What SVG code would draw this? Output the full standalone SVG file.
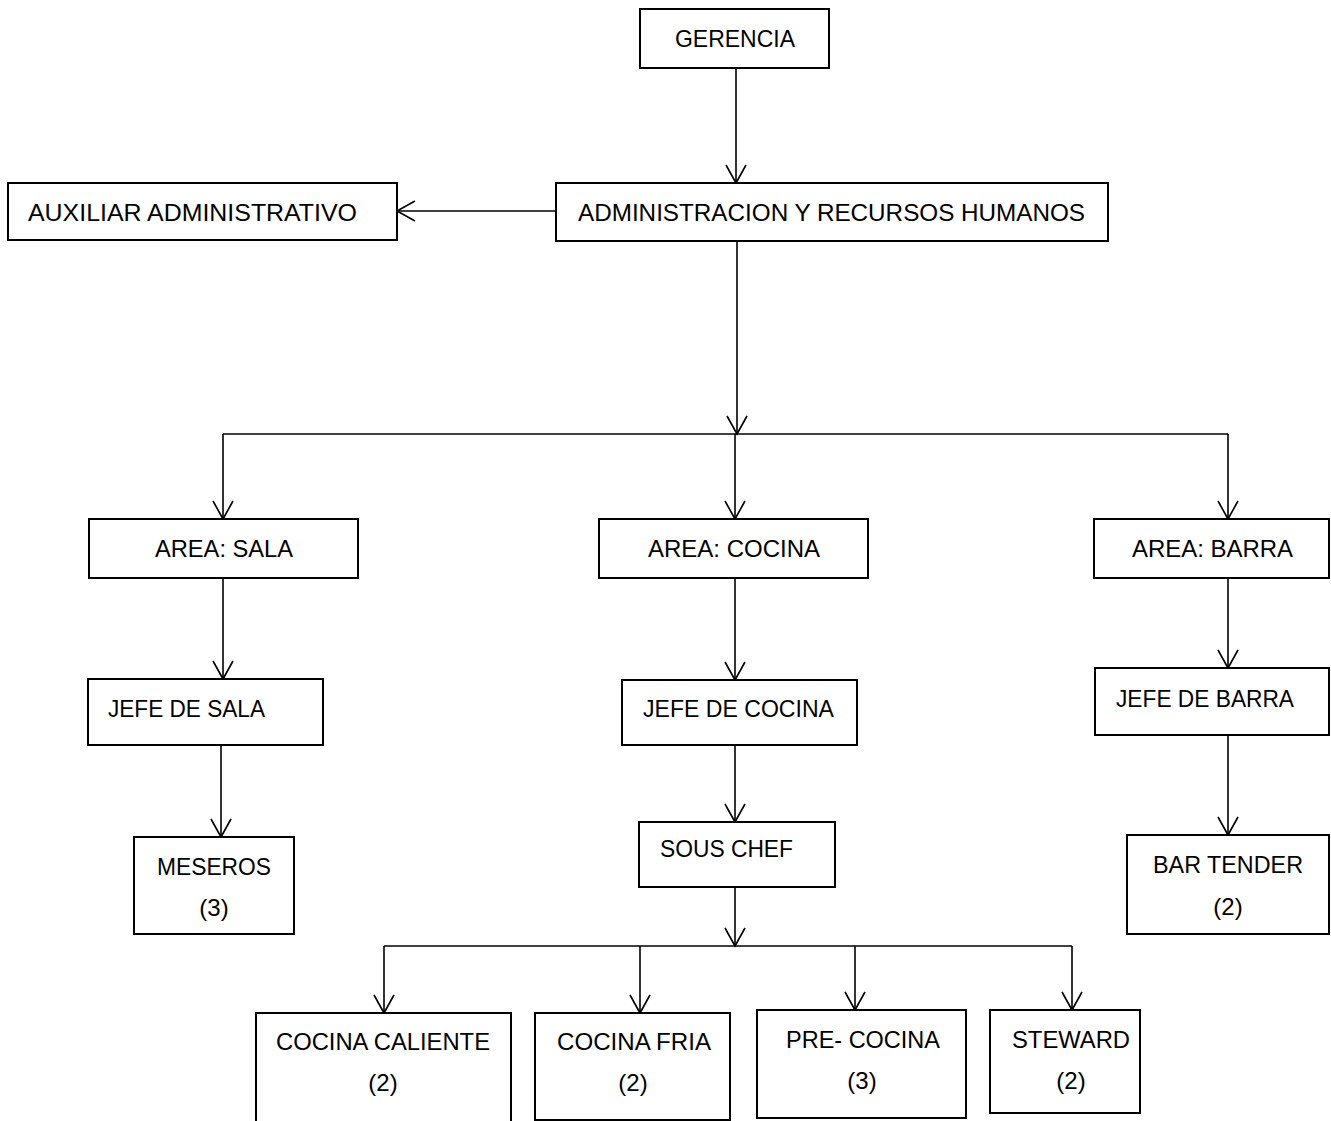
<svg xmlns="http://www.w3.org/2000/svg" width="1331" height="1121" viewBox="0 0 1331 1121">
<defs>
<marker id="ah" markerWidth="24" markerHeight="24" refX="18" refY="10" orient="auto" markerUnits="userSpaceOnUse" overflow="visible">
<path d="M0,0 L18,10 L0,20" fill="none" stroke="#000" stroke-width="1.6"/>
</marker>
</defs>
<style>
rect{fill:#fff;stroke:#000;stroke-width:2}
text{font-family:"Liberation Sans",Arial,sans-serif;font-size:24px;fill:#000}
.c{text-anchor:middle}
#connectors line{stroke:#000;stroke-width:1.6;fill:none}
.a{marker-end:url(#ah)}
</style>
<rect x="0" y="0" width="1331" height="1121" style="fill:#fff;stroke:none"/>
<g id="connectors">
<line class="a" x1="736" y1="68" x2="736" y2="183"/>
<line class="a" x1="556" y1="211" x2="397" y2="211"/>
<line class="a" x1="737" y1="241" x2="737" y2="434"/>
<line x1="223" y1="434" x2="1228" y2="434"/>
<line class="a" x1="223" y1="434" x2="223" y2="519"/>
<line class="a" x1="735" y1="434" x2="735" y2="519"/>
<line class="a" x1="1228" y1="434" x2="1228" y2="519"/>
<line class="a" x1="223" y1="578" x2="223" y2="679"/>
<line class="a" x1="221" y1="745" x2="221" y2="837"/>
<line class="a" x1="735" y1="578" x2="735" y2="680"/>
<line class="a" x1="735" y1="745" x2="735" y2="822"/>
<line class="a" x1="735" y1="887" x2="735" y2="946"/>
<line x1="384" y1="946" x2="1072" y2="946"/>
<line class="a" x1="384" y1="946" x2="384" y2="1013"/>
<line class="a" x1="640" y1="946" x2="640" y2="1013"/>
<line class="a" x1="855" y1="946" x2="855" y2="1010"/>
<line class="a" x1="1072" y1="946" x2="1072" y2="1010"/>
<line class="a" x1="1228" y1="578" x2="1228" y2="668"/>
<line class="a" x1="1228" y1="735" x2="1228" y2="835"/>
</g>
<g id="gerencia"><rect x="640" y="9" width="189" height="59"/><text x="675" y="47" textLength="120" lengthAdjust="spacingAndGlyphs">GERENCIA</text></g>
<g id="admin"><rect x="556" y="183" width="552" height="58"/><text x="578" y="221" textLength="507" lengthAdjust="spacingAndGlyphs">ADMINISTRACION Y RECURSOS HUMANOS</text></g>
<g id="auxiliar"><rect x="8" y="183" width="389" height="57"/><text x="28" y="221" textLength="329" lengthAdjust="spacingAndGlyphs">AUXILIAR ADMINISTRATIVO</text></g>
<g id="area-sala"><rect x="89" y="519" width="269" height="59"/><text x="155" y="557" textLength="138" lengthAdjust="spacingAndGlyphs">AREA: SALA</text></g>
<g id="area-cocina"><rect x="599" y="519" width="269" height="59"/><text x="648" y="557" textLength="172" lengthAdjust="spacingAndGlyphs">AREA: COCINA</text></g>
<g id="area-barra"><rect x="1094" y="519" width="235" height="59"/><text x="1132" y="557" textLength="161" lengthAdjust="spacingAndGlyphs">AREA: BARRA</text></g>
<g id="jefe-sala"><rect x="88" y="679" width="235" height="66"/><text x="108" y="717" textLength="157" lengthAdjust="spacingAndGlyphs">JEFE DE SALA</text></g>
<g id="jefe-cocina"><rect x="622" y="680" width="235" height="65"/><text x="643" y="717" textLength="191" lengthAdjust="spacingAndGlyphs">JEFE DE COCINA</text></g>
<g id="jefe-barra"><rect x="1095" y="668" width="234" height="67"/><text x="1116" y="707" textLength="178" lengthAdjust="spacingAndGlyphs">JEFE DE BARRA</text></g>
<g id="meseros"><rect x="134" y="837" width="160" height="97"/><text x="157" y="875" textLength="114" lengthAdjust="spacingAndGlyphs">MESEROS</text><text class="c" x="214" y="916">(3)</text></g>
<g id="sous-chef"><rect x="639" y="822" width="196" height="65"/><text x="660" y="857" textLength="133" lengthAdjust="spacingAndGlyphs">SOUS CHEF</text></g>
<g id="bar-tender"><rect x="1127" y="835" width="202" height="99"/><text x="1153" y="873" textLength="150" lengthAdjust="spacingAndGlyphs">BAR TENDER</text><text class="c" x="1228" y="915">(2)</text></g>
<g id="cocina-caliente"><rect x="256" y="1013" width="255" height="112"/><text x="276" y="1050" textLength="214" lengthAdjust="spacingAndGlyphs">COCINA CALIENTE</text><text class="c" x="383" y="1091">(2)</text></g>
<g id="cocina-fria"><rect x="535" y="1013" width="195" height="107"/><text x="557" y="1050" textLength="154" lengthAdjust="spacingAndGlyphs">COCINA FRIA</text><text class="c" x="633" y="1091">(2)</text></g>
<g id="pre-cocina"><rect x="757" y="1010" width="209" height="108"/><text x="786" y="1048" textLength="154" lengthAdjust="spacingAndGlyphs">PRE- COCINA</text><text class="c" x="862" y="1089">(3)</text></g>
<g id="steward"><rect x="990" y="1010" width="150" height="103"/><text x="1012" y="1048" textLength="118" lengthAdjust="spacingAndGlyphs">STEWARD</text><text class="c" x="1071" y="1089">(2)</text></g>
</svg>
